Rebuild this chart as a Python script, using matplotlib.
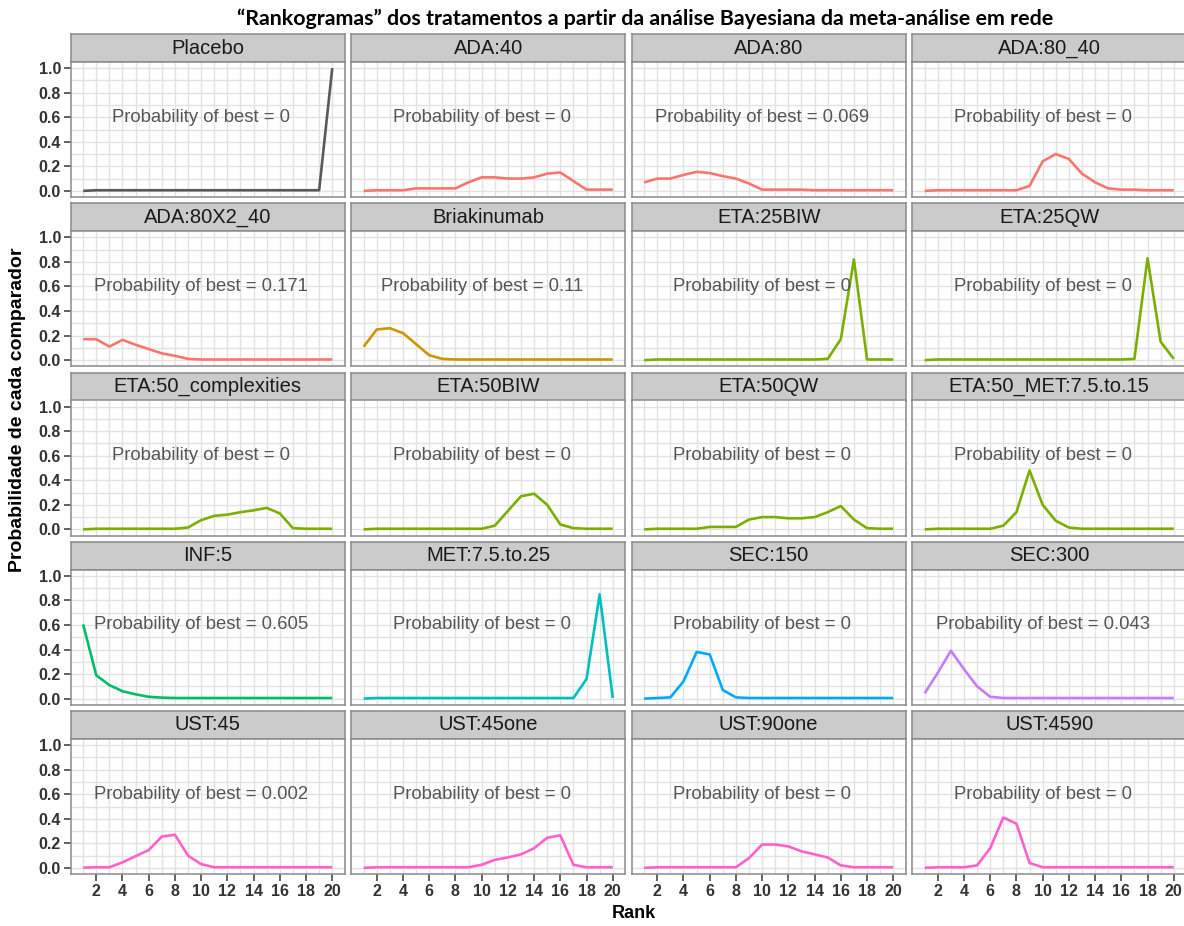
import matplotlib
matplotlib.use("Agg")
import matplotlib.pyplot as plt
from matplotlib.ticker import MultipleLocator

W, H = 1184, 926

ranks = list(range(1, 21))

treatments = [
    "Placebo", "ADA:40", "ADA:80", "ADA:80_40",
    "ADA:80X2_40", "Briakinumab", "ETA:25BIW", "ETA:25QW",
    "ETA:50_complexities", "ETA:50BIW", "ETA:50QW", "ETA:50_MET:7.5.to.15",
    "INF:5", "MET:7.5.to.25", "SEC:150", "SEC:300",
    "UST:45", "UST:45one", "UST:90one", "UST:4590",
]

# Probability of each rank (1..20) per treatment
placebo = [0] + [0.005] * 18 + [1.0]
ada_40 = [0, 0.005, 0.005, 0.005, 0.02, 0.02, 0.02, 0.02, 0.07, 0.11,
          0.11, 0.10, 0.10, 0.11, 0.14, 0.15, 0.08, 0.01, 0.01, 0.01]
ada_80 = [0.069, 0.10, 0.10, 0.13, 0.155, 0.145, 0.12, 0.10, 0.06, 0.01,
          0.01, 0.01, 0.01, 0.005, 0.005, 0.005, 0.005, 0.005, 0.005, 0.005]
ada_80_40 = [0] + [0.005] * 7 + [0.04, 0.24, 0.30, 0.26, 0.14, 0.07, 0.02,
                                 0.01, 0.01, 0.005, 0.005, 0.005]
ada_80x2_40 = [0.171, 0.17, 0.11, 0.165, 0.125, 0.09, 0.055, 0.035, 0.01] + [0.005] * 11
briakinumab = [0.11, 0.25, 0.26, 0.22, 0.13, 0.04, 0.01] + [0.005] * 13
eta_25biw = [0] + [0.005] * 13 + [0.01, 0.17, 0.82, 0.005, 0.005, 0.005]
eta_25qw = [0] + [0.005] * 15 + [0.01, 0.83, 0.15, 0.01]
eta_50_complexities = [0] + [0.005] * 7 + [0.015, 0.075, 0.11, 0.12, 0.14, 0.155,
                                           0.175, 0.13, 0.01, 0.005, 0.005, 0.005]
eta_50biw = [0] + [0.005] * 9 + [0.03, 0.15, 0.27, 0.29, 0.20, 0.04, 0.01,
                                 0.005, 0.005, 0.005]
eta_50qw = [0] + [0.005] * 4 + [0.02, 0.02, 0.02, 0.08, 0.10, 0.10, 0.09, 0.09,
                                0.10, 0.14, 0.19, 0.08, 0.01, 0.005, 0.005]
eta_50_met = [0] + [0.005] * 5 + [0.03, 0.14, 0.48, 0.20, 0.07, 0.015] + [0.005] * 8
inf_5 = [0.605, 0.19, 0.11, 0.06, 0.035, 0.015, 0.008] + [0.005] * 13
met_7_5_25 = [0] + [0.005] * 16 + [0.16, 0.85, 0.005]
sec_150 = [0, 0.005, 0.01, 0.14, 0.38, 0.36, 0.07, 0.01] + [0.005] * 12
sec_300 = [0.043, 0.21, 0.39, 0.24, 0.10, 0.015] + [0.005] * 14
ust_45 = [0.002, 0.005, 0.005, 0.045, 0.095, 0.145, 0.255, 0.27, 0.10, 0.03] + [0.005] * 10
ust_45one = [0] + [0.005] * 8 + [0.025, 0.065, 0.085, 0.11, 0.16, 0.245, 0.265,
                                0.025, 0.005, 0.005, 0.005]
ust_90one = [0] + [0.005] * 7 + [0.08, 0.19, 0.19, 0.175, 0.135, 0.11, 0.085,
                                0.02, 0.005, 0.005, 0.005, 0.005]
ust_4590 = [0, 0.005, 0.005, 0.005, 0.02, 0.16, 0.41, 0.36, 0.04] + [0.005] * 11

series = [
    placebo, ada_40, ada_80, ada_80_40,
    ada_80x2_40, briakinumab, eta_25biw, eta_25qw,
    eta_50_complexities, eta_50biw, eta_50qw, eta_50_met,
    inf_5, met_7_5_25, sec_150, sec_300,
    ust_45, ust_45one, ust_90one, ust_4590,
]

# Colour per drug (ggplot hue palette), placebo in grey
drug_colors = {
    "Placebo": "#595959", "ADA": "#F8766D", "BRI": "#CD9600", "ETA": "#7CAE00",
    "INF": "#00BE67", "MET": "#00BFC4", "SEC150": "#00A9FF", "SEC300": "#C77CFF",
    "UST": "#FF61CC",
}
drug_of = ["Placebo", "ADA", "ADA", "ADA",
           "ADA", "BRI", "ETA", "ETA",
           "ETA", "ETA", "ETA", "ETA",
           "INF", "MET", "SEC150", "SEC300",
           "UST", "UST", "UST", "UST"]

title = "\u201cRankogramas\u201d dos tratamentos a partir da análise Bayesiana da meta-análise em rede"
ylabel = "Probabilidade de cada comparador"
xlabel = "Rank"

fig = plt.figure(figsize=(W / 100, H / 100), dpi=100)
fig.patch.set_facecolor("white")


def rect(left, top, width, height):
    return [left / W, 1 - (top + height) / H, width / W, height / H]


FONT = ["Liberation Sans", "DejaVu Sans"]
border = "#8a8a8a"
grid_col = "#e2e2e2"

col_left0, col_step, panel_w = 70.7, 280.5, 274.0
row_top0, row_step = 34.0, 169.25
strip_h, panel_h = 28.0, 135.0

for i, (name, vals) in enumerate(zip(treatments, series)):
    r, c = divmod(i, 4)
    left = col_left0 + c * col_step
    stop = row_top0 + r * row_step

    # strip
    sax = fig.add_axes(rect(left, stop, panel_w, strip_h))
    sax.set_facecolor("#cbcbcb")
    sax.set_xticks([])
    sax.set_yticks([])
    for sp in sax.spines.values():
        sp.set_color(border)
        sp.set_linewidth(1.1)
    sax.text(0.5, 0.5, name, transform=sax.transAxes, ha="center", va="center",
             fontsize=14.5, color="#1a1a1a", family=FONT)

    # panel
    ax = fig.add_axes(rect(left, stop + strip_h, panel_w, panel_h))
    ax.set_facecolor("white")
    ax.set_xlim(0.05, 20.95)
    ax.set_ylim(-0.05, 1.05)
    ax.xaxis.set_minor_locator(MultipleLocator(1))
    ax.yaxis.set_minor_locator(MultipleLocator(0.1))
    ax.set_xticks([2, 4, 6, 8, 10, 12, 14, 16, 18, 20])
    ax.set_yticks([0, 0.2, 0.4, 0.6, 0.8, 1.0])
    ax.grid(which="both", color=grid_col, linewidth=1.0)
    ax.set_axisbelow(True)
    for sp in ax.spines.values():
        sp.set_color(border)
        sp.set_linewidth(1.1)
    ax.tick_params(which="minor", length=0)
    ax.tick_params(which="major", length=5, width=1.3, color="#555555",
                   labelsize=11.5, labelcolor="#333333", pad=2)
    if c == 0:
        ax.set_yticklabels([f"{v:.1f}" for v in [0, 0.2, 0.4, 0.6, 0.8, 1.0]],
                           fontweight="bold", family=FONT)
    else:
        ax.tick_params(axis="y", which="major", length=0, labelleft=False)
    if r == 4:
        ax.set_xticklabels([str(v) for v in [2, 4, 6, 8, 10, 12, 14, 16, 18, 20]],
                           fontweight="bold", family=FONT)
    else:
        ax.tick_params(axis="x", which="major", length=0, labelbottom=False)

    ax.plot(ranks, vals, color=drug_colors[drug_of[i]], linewidth=1.9,
            solid_joinstyle="round", solid_capstyle="butt", zorder=3)
    ax.text(10, 0.6, f"Probability of best = {vals[0]:g}", ha="center", va="center",
            fontsize=13.3, color="#555555", family=FONT, zorder=4)

fig.text(645 / W, 1 - 19 / H, title, ha="center", va="center", fontsize=15.4,
         fontweight="bold", family=["Lato", "DejaVu Sans"], color="black")
fig.text(18 / W, 1 - 410 / H, ylabel, ha="center", va="center", rotation=90,
         fontsize=14, fontweight="bold", family=FONT, color="black")
fig.text(634 / W, 1 - 914 / H, xlabel, ha="center", va="center", fontsize=13,
         fontweight="bold", family=FONT, color="black")

fig.savefig("out.png", dpi=100, facecolor="white")
